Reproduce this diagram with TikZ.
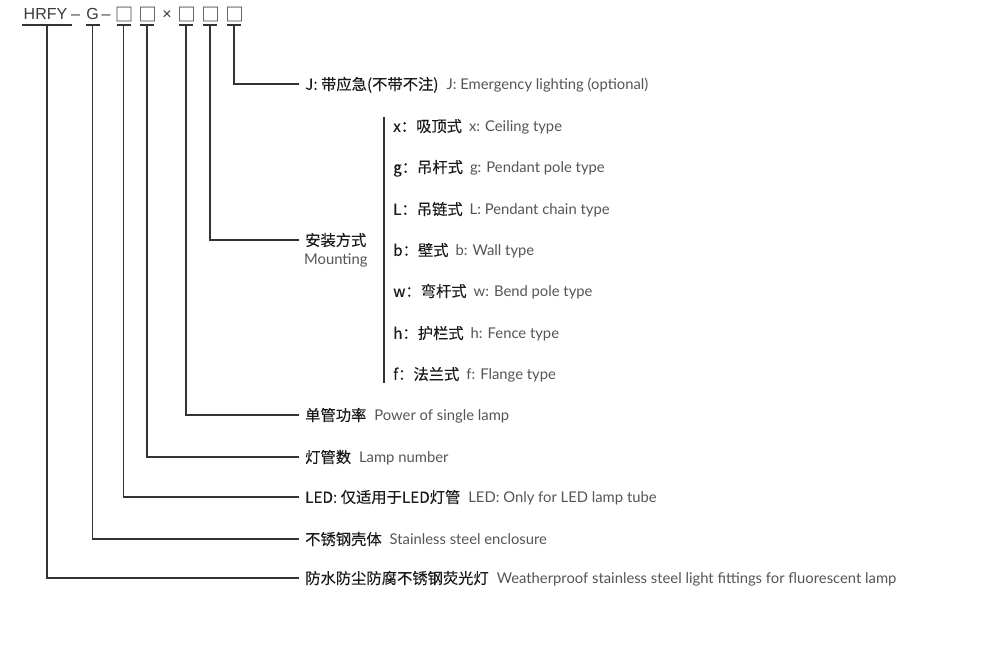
\documentclass[tikz,border=0pt]{standalone}
\usepackage{fontspec}
\newfontfamily\cjk[FakeBold=0.15]{Noto Sans CJK SC}
\newfontfamily\enf{Lato}
\newfontfamily\hdr{Liberation Sans}
\definecolor{ink}{HTML}{1A1A1A}
\definecolor{sub}{HTML}{555555}
\definecolor{lin}{HTML}{333333}
\definecolor{hd}{HTML}{3A3A3A}
\definecolor{bx}{HTML}{666666}
\newcommand\entxt[1]{{\enf\fontsize{14.8}{17}\selectfont\color{sub}#1}}
\begin{document}
\begin{tikzpicture}[x=1pt,y=-1pt,
  conn/.style={draw=lin,line width=1.1pt},
  lab/.style={anchor=west,inner sep=0pt,font=\cjk\fontsize{15.3}{18}\selectfont,text=ink,text height=12.2pt,text depth=0.5pt},
  tok/.style={inner sep=0pt,anchor=base,font=\hdr\fontsize{16}{18}\selectfont,text=hd},
  boxtok/.style={inner sep=0pt,anchor=base,font=\cjk\fontsize{18.5}{20}\selectfont,text=bx}]
\useasboundingbox (0,0) rectangle (986,647);
% header tokens
\node[tok] (t1) at (45.5,20) {HRFY};
\node[tok] (d1) at (75.5,20) {–};
\node[tok] (t2) at (92.5,20) {G};
\node[tok] (d2) at (106,20) {–};
\node[boxtok] (t3) at (124,21) {□};
\node[boxtok] (t4) at (147.5,21) {□};
\node[tok] (x1) at (167,20) {×};
\node[boxtok] (t5) at (186.5,21) {□};
\node[boxtok] (t6) at (210.5,21) {□};
\node[boxtok] (t7) at (234.5,21) {□};
% underline anchors
\coordinate (u1) at (47,25);
\coordinate (u2) at (92.5,25);
\coordinate (u3) at (123.5,25);
\coordinate (u4) at (147,25);
\coordinate (u5) at (186,25);
\coordinate (u6) at (210,25);
\coordinate (u7) at (234,25);
\draw[conn] ([xshift=-25pt]u1) -- ([xshift=25pt]u1);
\foreach \u in {u2,u3,u4,u5,u6,u7}{\draw[conn] ([xshift=-7pt]\u) -- ([xshift=7pt]\u);}
% labels
\node[lab] (lJ) at (305,84) {J: 带应急(不带不注)\hspace{8pt}\entxt{J: Emergency lighting (optional)}};
\node[lab] (lM) at (305,240) {安装方式};
\node[inner sep=0pt,anchor=base,font=\enf\fontsize{14.8}{17}\selectfont,text=sub] (lMe) at ([yshift=-18.5pt]lM.base) {Mounting};
\node[lab] (lP) at (305,415) {单管功率\hspace{8pt}\entxt{Power of single lamp}};
\node[lab] (lN) at (305,457) {灯管数\hspace{8pt}\entxt{Lamp number}};
\node[lab] (lL) at (305,497) {LED: 仅适用于LED灯管\hspace{8pt}\entxt{LED: Only for LED lamp tube}};
\node[lab] (lS) at (305,539) {不锈钢壳体\hspace{8pt}\entxt{Stainless steel enclosure}};
\node[lab] (lW) at (305,578) {防水防尘防腐不锈钢荧光灯\hspace{8pt}\entxt{Weatherproof stainless steel light fittings for fluorescent lamp}};
% mounting options
\coordinate (mtop) at (384,117);
\coordinate (mbot) at (384,383);
\draw[conn] (mtop) -- (mbot);
\node[lab] (o1) at (393,126) {x：吸顶式\hspace{7pt}\entxt{x: Ceiling type}};
\node[lab] (o2) at (393,167) {g：吊杆式\hspace{7pt}\entxt{g: Pendant pole type}};
\node[lab] (o3) at (393,209) {L：吊链式\hspace{7pt}\entxt{L: Pendant chain type}};
\node[lab] (o4) at (393,250) {b：壁式\hspace{7pt}\entxt{b: Wall type}};
\node[lab] (o5) at (393,291) {w：弯杆式\hspace{7pt}\entxt{w: Bend pole type}};
\node[lab] (o6) at (393,333) {h：护栏式\hspace{7pt}\entxt{h: Fence type}};
\node[lab] (o7) at (393,374) {f：法兰式\hspace{7pt}\entxt{f: Flange type}};
% connectors
\draw[conn] (u7) |- ([xshift=-6pt]lJ.west);
\draw[conn] (u6) |- ([xshift=-6pt]lM.west);
\draw[conn] (u5) |- ([xshift=-6pt]lP.west);
\draw[conn] (u4) |- ([xshift=-6pt]lN.west);
\draw[conn] (u3) |- ([xshift=-6pt]lL.west);
\draw[conn] (u2) |- ([xshift=-6pt]lS.west);
\draw[conn] (u1) |- ([xshift=-6pt]lW.west);
\end{tikzpicture}
\end{document}
